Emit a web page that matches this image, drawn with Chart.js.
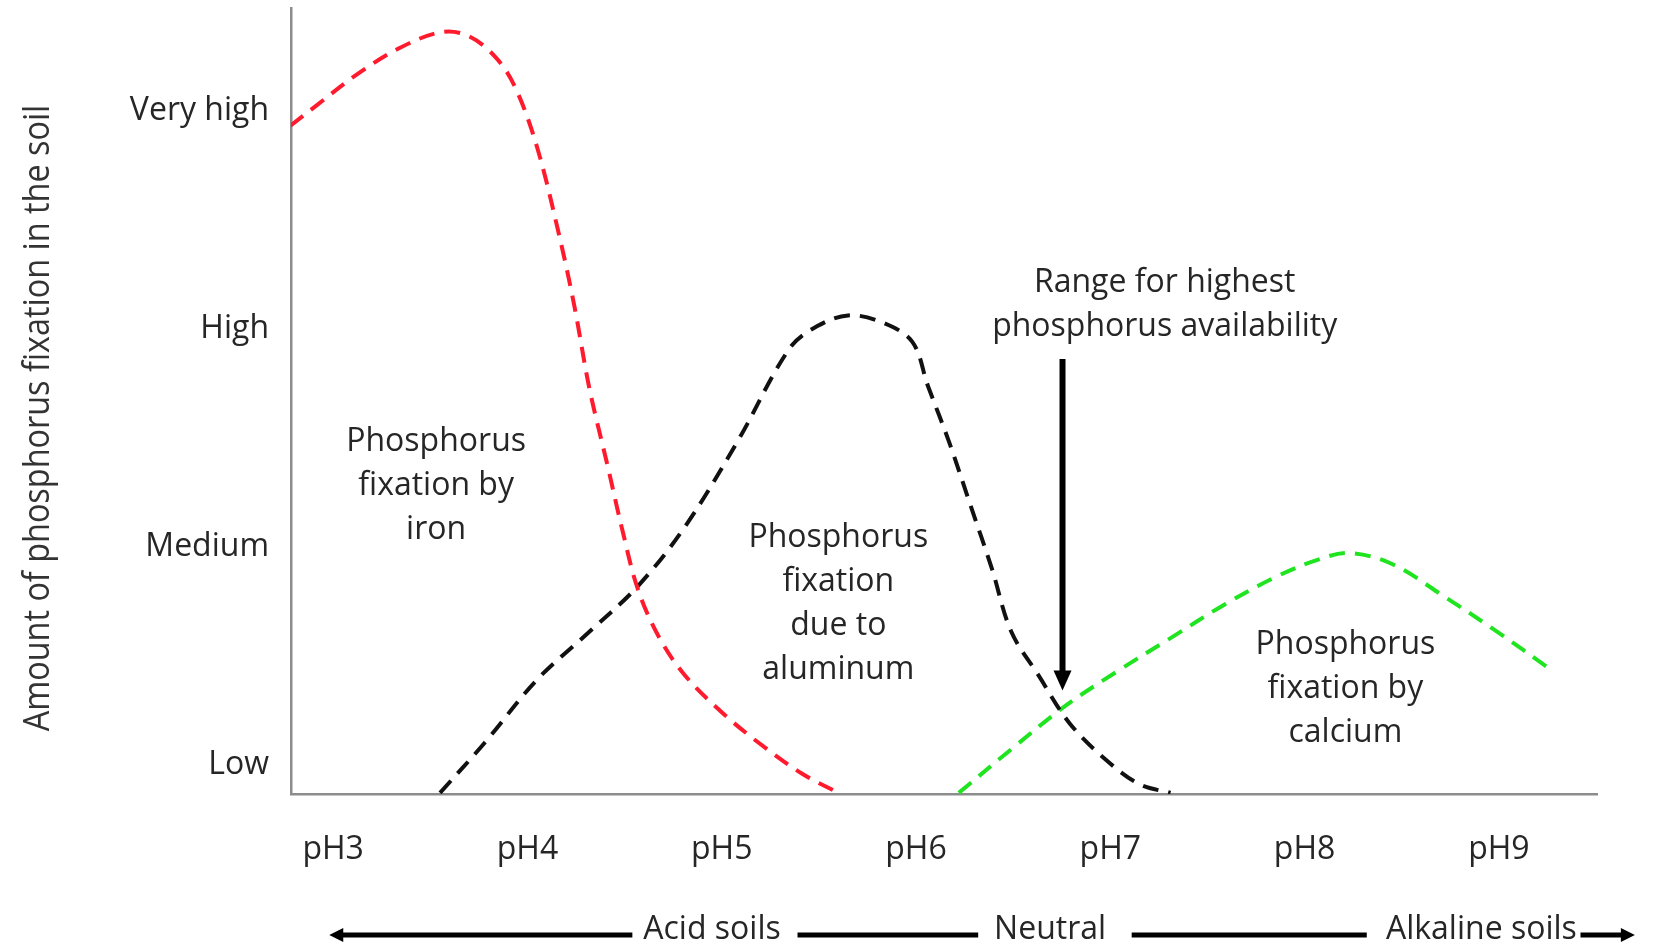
<!DOCTYPE html>
<html>
<head>
<meta charset="utf-8">
<script src="https://cdn.jsdelivr.net/npm/chart.js@4/dist/chart.umd.min.js"></script>
<style>
html, body { margin: 0; padding: 0; background: #fff; }
</style>
</head>
<body>
<canvas id="phChart" width="1653" height="943"></canvas>
<script>
// y ticks: fixation level, x ticks: pH
const levelNames = ['Low', 'Medium', 'High', 'Very high'];
const levelTicks = [1, 2, 3, 4];
const phTicks = [3, 4, 5, 6, 7, 8, 9];

// red - fixation by iron
const ironPH    = [2.78, 2.91, 3.13, 3.35, 3.56, 3.70, 3.84, 3.94, 4.05, 4.16, 4.24, 4.32, 4.41, 4.49, 4.57, 4.68, 4.81, 5.00, 5.19, 5.41, 5.60];
const ironLevel = [3.93, 4.02, 4.17, 4.29, 4.36, 4.34, 4.24, 4.10, 3.83, 3.44, 3.11, 2.72, 2.38, 2.07, 1.80, 1.58, 1.41, 1.24, 1.10, 0.96, 0.87];

// black - fixation due to aluminum
const aluPH    = [3.55, 3.78, 4.05, 4.32, 4.57, 4.81, 5.08, 5.35, 5.49, 5.65, 5.82, 5.98, 6.06, 6.17, 6.28, 6.39, 6.49, 6.63, 6.79, 6.98, 7.15, 7.31];
const aluLevel = [0.87, 1.10, 1.39, 1.61, 1.82, 2.09, 2.48, 2.91, 3.01, 3.06, 3.03, 2.94, 2.74, 2.48, 2.19, 1.90, 1.61, 1.41, 1.19, 1.02, 0.91, 0.87];

// green - fixation by calcium
const calPH    = [6.22, 6.49, 6.77, 7.04, 7.31, 7.58, 7.85, 8.07, 8.23, 8.45, 8.72, 8.99, 9.26];
const calLevel = [0.87, 1.07, 1.27, 1.43, 1.58, 1.73, 1.86, 1.94, 1.97, 1.92, 1.77, 1.61, 1.44];

// text in the plot
const yTitle = 'Amount of phosphorus fixation in the soil';
const ironText = ['Phosphorus', 'fixation by', 'iron'];
const aluText = ['Phosphorus', 'fixation', 'due to', 'aluminum'];
const calText = ['Phosphorus', 'fixation by', 'calcium'];
const rangeText = ['Range for highest', 'phosphorus availability'];
const soilText = ['Acid soils', 'Neutral', 'Alkaline soils'];

const txtColor = '#262626';
const fnt = '"Open Sans", sans-serif';

function pts(xs, ys) {
    return xs.map((v, i) => ({x: v, y: ys[i]}));
}

function arrowHead(ctx, x, y, dir, len, half) {
    // dir: 'left' 'right' 'down'
    ctx.beginPath();
    if (dir === 'down') {
        ctx.moveTo(x, y); ctx.lineTo(x - half, y - len); ctx.lineTo(x + half, y - len);
    } else if (dir === 'left') {
        ctx.moveTo(x, y); ctx.lineTo(x + len, y - half); ctx.lineTo(x + len, y + half);
    } else {
        ctx.moveTo(x, y); ctx.lineTo(x - len, y - half); ctx.lineTo(x - len, y + half);
    }
    ctx.closePath();
    ctx.fill();
}

const notesPlugin = {
    id: 'notes',
    afterDraw(chart) {
        const {ctx, chartArea} = chart;
        const xs = chart.scales.x, ys = chart.scales.y;
        const px = v => xs.getPixelForValue(v);
        const py = v => ys.getPixelForValue(v);
        ctx.save();
        ctx.fillStyle = txtColor;
        ctx.strokeStyle = '#000';
        ctx.font = '32px ' + fnt;
        ctx.textAlign = 'center';
        ctx.textBaseline = 'middle';
        const block = (lines, xv, yv) => {
            lines.forEach((t, i) => ctx.fillText(t, px(xv), py(yv) + i * 44));
        };
        block(ironText, 3.53, 2.48);
        block(aluText, 5.60, 2.04);
        block(calText, 8.21, 1.55);
        block(rangeText, 7.28, 3.21);

        // arrow pointing to best range
        ctx.fillStyle = '#000';
        ctx.lineWidth = 6;
        ctx.beginPath();
        ctx.moveTo(px(6.754), py(2.86));
        ctx.lineTo(px(6.754), py(1.34) - 18);
        ctx.stroke();
        arrowHead(ctx, px(6.754), py(1.34), 'down', 20, 9);

        // bottom scale of soils
        const yb = chartArea.bottom + 136;
        ctx.fillStyle = txtColor;
        ctx.fillText(soilText[0], px(4.95), yb);
        ctx.fillText(soilText[1], px(6.69), yb);
        ctx.fillText(soilText[2], px(8.91), yb);
        ctx.fillStyle = '#000';
        ctx.lineWidth = 5;
        const ya = yb + 5;
        ctx.beginPath();
        ctx.moveTo(px(2.98) + 12, ya); ctx.lineTo(px(4.54), ya);
        ctx.moveTo(px(5.39), ya); ctx.lineTo(px(6.32), ya);
        ctx.moveTo(px(7.11), ya); ctx.lineTo(px(8.32), ya);
        ctx.moveTo(px(9.42), ya); ctx.lineTo(px(9.70) - 12, ya);
        ctx.stroke();
        arrowHead(ctx, px(2.98), ya, 'left', 14, 7);
        arrowHead(ctx, px(9.70), ya, 'right', 14, 7);

        // y axis title, narrow like the original
        ctx.fillStyle = '#333';
        ctx.translate(39, (chartArea.top + chartArea.bottom) / 2 + 17);
        ctx.rotate(-Math.PI / 2);
        ctx.scale(0.9, 1);
        ctx.font = '36px ' + fnt;
        ctx.fillText(yTitle, 0, 0);
        ctx.restore();
    }
};

const lineStyle = {
    showLine: true,
    pointRadius: 0,
    borderWidth: 4,
    borderDash: [16, 10],
    tension: 0.35,
    fill: false
};

new Chart('phChart', {
    type: 'scatter',
    data: {
        datasets: [
            Object.assign({data: pts(ironPH, ironLevel), borderColor: '#ff1a2e'}, lineStyle),
            Object.assign({data: pts(aluPH, aluLevel), borderColor: '#111111'}, lineStyle),
            Object.assign({data: pts(calPH, calLevel), borderColor: '#1fe41f'}, lineStyle)
        ]
    },
    options: {
        responsive: false,
        animation: false,
        layout: {padding: {top: 8, right: 56, left: 0, bottom: 0}},
        plugins: {legend: {display: false}, tooltip: {enabled: false}},
        scales: {
            x: {
                type: 'linear',
                min: 2.783,
                max: 9.505,
                afterFit(s) { s.height = 149; s.paddingLeft = 0; s.paddingRight = 0; },
                afterBuildTicks(s) { s.ticks = phTicks.map(v => ({value: v})); },
                grid: {display: false, drawTicks: false},
                border: {display: true, color: '#8c8c8c', width: 2.5},
                ticks: {
                    callback: v => 'pH' + v,
                    font: {family: fnt, size: 32},
                    color: txtColor,
                    padding: 37,
                    maxRotation: 0,
                    autoSkip: false
                }
            },
            y: {
                min: 0.865,
                max: 4.47,
                afterFit(s) { s.width = 291; s.paddingTop = 0; s.paddingBottom = 0; },
                afterBuildTicks(s) { s.ticks = levelTicks.map(v => ({value: v})); },
                grid: {display: false, drawTicks: false},
                border: {display: true, color: '#8c8c8c', width: 2.5},
                ticks: {
                    callback: v => levelNames[levelTicks.indexOf(v)],
                    font: {family: fnt, size: 32},
                    color: txtColor,
                    padding: 22
                }
            }
        }
    },
    plugins: [notesPlugin]
});
</script>
</body>
</html>
